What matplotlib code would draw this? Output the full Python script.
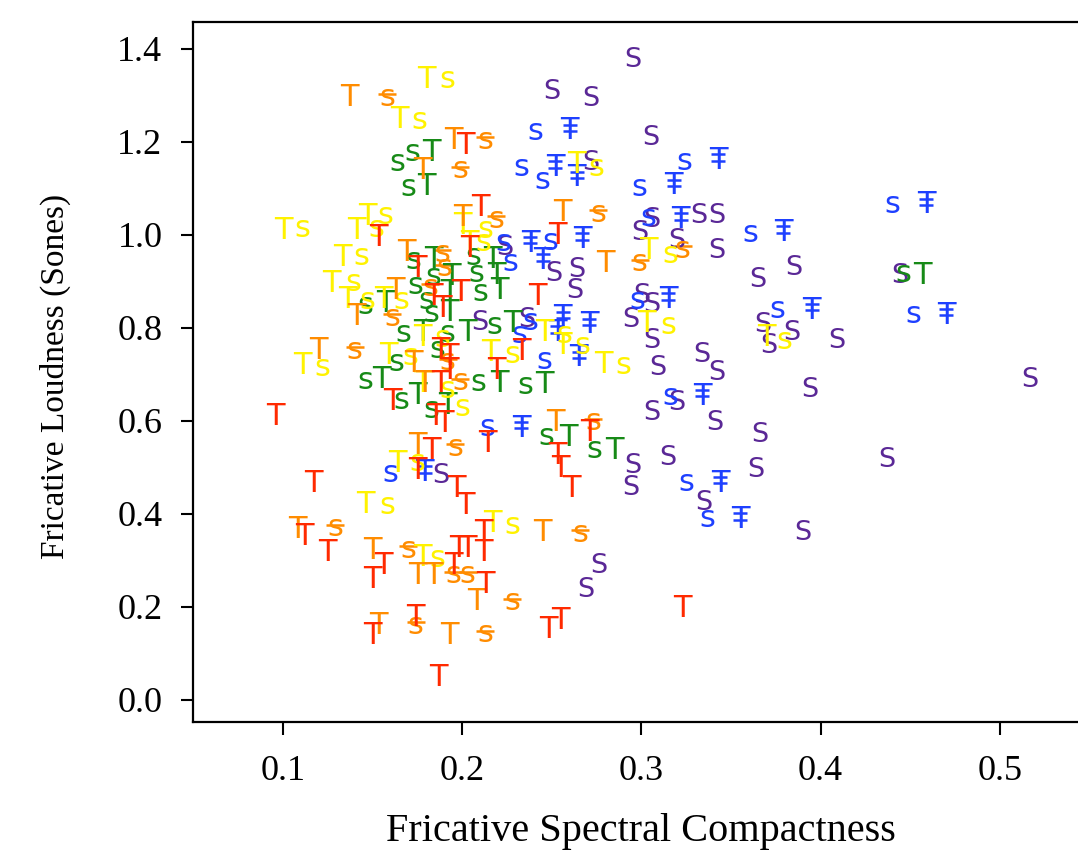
import matplotlib
matplotlib.use("Agg")
import matplotlib.pyplot as plt
from matplotlib.transforms import ScaledTranslation

# ---- fricative measurements, grouped by speaker colour and token letter ----
# compactness (x) / loudness in sones (y)

purple_s_x = [0.295, 0.250, 0.272, 0.305, 0.272, 0.306, 0.332, 0.342, 0.224, 0.251,
              0.299, 0.320, 0.342, 0.264, 0.263, 0.300, 0.306, 0.294, 0.210, 0.236,
              0.306, 0.309, 0.334, 0.342, 0.320, 0.306, 0.341, 0.315, 0.295, 0.294,
              0.335, 0.276, 0.269, 0.365, 0.385, 0.444, 0.368, 0.384, 0.371, 0.409,
              0.517, 0.394, 0.366, 0.437, 0.364, 0.390, 0.188]
purple_s_y = [1.383, 1.314, 1.299, 1.215, 1.161, 1.039, 1.047, 1.047, 0.978, 0.923,
              1.011, 0.994, 0.972, 0.931, 0.886, 0.875, 0.856, 0.824, 0.817, 0.824,
              0.778, 0.720, 0.748, 0.710, 0.645, 0.624, 0.602, 0.527, 0.510, 0.462,
              0.430, 0.295, 0.243, 0.910, 0.935, 0.918, 0.813, 0.796, 0.768, 0.778,
              0.695, 0.673, 0.576, 0.523, 0.501, 0.366, 0.488]

blue_s_x = [0.241, 0.233, 0.245, 0.324, 0.299, 0.304, 0.361, 0.223, 0.249, 0.227, 0.298,
            0.376, 0.440, 0.452, 0.232, 0.238, 0.246, 0.316, 0.214, 0.160, 0.325, 0.337]
blue_s_y = [1.222, 1.144, 1.118, 1.157, 1.103, 1.037, 1.004, 0.983, 0.985, 0.940, 0.860,
            0.839, 1.065, 0.830, 0.785, 0.813, 0.731, 0.652, 0.585, 0.488, 0.467, 0.391]

blue_t_x = [0.260, 0.252, 0.264, 0.343, 0.318, 0.322, 0.379, 0.238, 0.245, 0.267, 0.315,
            0.395, 0.459, 0.470, 0.253, 0.256, 0.271, 0.265, 0.334, 0.233, 0.179, 0.344, 0.355]
blue_t_y = [1.230, 1.151, 1.129, 1.166, 1.112, 1.039, 1.011, 0.989, 0.951, 0.996, 0.867,
            0.845, 1.071, 0.834, 0.796, 0.828, 0.813, 0.742, 0.660, 0.591, 0.495, 0.473, 0.394]

green_s_x = [0.172, 0.164, 0.170, 0.173, 0.184, 0.206, 0.208, 0.174, 0.146, 0.180, 0.210,
             0.183, 0.218, 0.167, 0.192, 0.186, 0.163, 0.146, 0.209, 0.235, 0.166, 0.183,
             0.247, 0.446, 0.274]
green_s_y = [1.178, 1.155, 1.103, 0.946, 0.910, 0.953, 0.918, 0.892, 0.849, 0.860, 0.877,
             0.832, 0.806, 0.789, 0.789, 0.753, 0.725, 0.688, 0.682, 0.677, 0.645, 0.624,
             0.566, 0.918, 0.538]

green_t_x = [0.183, 0.180, 0.184, 0.194, 0.217, 0.219, 0.193, 0.221, 0.157, 0.193, 0.228,
             0.178, 0.203, 0.155, 0.221, 0.246, 0.175, 0.192, 0.457, 0.259, 0.285]
green_t_y = [1.183, 1.110, 0.953, 0.918, 0.953, 0.920, 0.882, 0.886, 0.860, 0.839, 0.817,
             0.796, 0.796, 0.695, 0.688, 0.684, 0.662, 0.639, 0.920, 0.570, 0.544]

yellow_t_x = [0.180, 0.165, 0.100, 0.147, 0.141, 0.200, 0.204, 0.133, 0.127, 0.136, 0.156,
              0.178, 0.159, 0.216, 0.111, 0.178, 0.264, 0.304, 0.303, 0.246, 0.279, 0.370,
              0.164, 0.146, 0.217, 0.178, 0.256]
yellow_t_y = [1.340, 1.254, 1.017, 1.047, 1.017, 1.026, 0.989, 0.957, 0.903, 0.867, 0.867,
              0.785, 0.748, 0.753, 0.725, 0.688, 1.157, 0.974, 0.817, 0.796, 0.727, 0.785,
              0.516, 0.426, 0.387, 0.312, 0.768]

yellow_s_x = [0.192, 0.176, 0.111, 0.157, 0.152, 0.213, 0.212, 0.144, 0.139, 0.147, 0.166,
              0.189, 0.171, 0.228, 0.122, 0.192, 0.200, 0.275, 0.316, 0.315, 0.257, 0.267,
              0.290, 0.380, 0.158, 0.228, 0.186, 0.175]
yellow_s_y = [1.335, 1.247, 1.013, 1.041, 1.013, 1.011, 0.983, 0.953, 0.897, 0.860, 0.860,
              0.778, 0.738, 0.742, 0.716, 0.667, 0.630, 1.146, 0.957, 0.806, 0.785, 0.763,
              0.720, 0.774, 0.419, 0.376, 0.305, 0.510]

orange_t_x = [0.137, 0.195, 0.178, 0.200, 0.169, 0.163, 0.141, 0.120, 0.173, 0.179, 0.175,
              0.252, 0.256, 0.280, 0.245, 0.108, 0.150, 0.175, 0.184, 0.208, 0.153, 0.193]
orange_t_y = [1.301, 1.209, 1.146, 1.043, 0.968, 0.888, 0.832, 0.759, 0.731, 0.688, 0.553,
              0.604, 1.054, 0.946, 0.366, 0.372, 0.327, 0.275, 0.275, 0.219, 0.166, 0.146]

orange_s_x = [0.158, 0.213, 0.199, 0.219, 0.189, 0.190, 0.182, 0.161, 0.140, 0.192, 0.199,
              0.196, 0.276, 0.323, 0.299, 0.273, 0.266, 0.129, 0.170, 0.195, 0.203, 0.174,
              0.213, 0.228]
orange_s_y = [1.295, 1.204, 1.140, 1.034, 0.961, 0.929, 0.888, 0.822, 0.751, 0.727, 0.684,
              0.544, 1.047, 0.968, 0.940, 0.598, 0.359, 0.370, 0.323, 0.269, 0.269, 0.161,
              0.142, 0.211]

red_t_x = [0.202, 0.210, 0.153, 0.204, 0.175, 0.184, 0.199, 0.189, 0.242, 0.188, 0.193,
           0.233, 0.193, 0.219, 0.188, 0.161, 0.185, 0.190, 0.096, 0.214, 0.183, 0.175,
           0.117, 0.197, 0.202, 0.112, 0.125, 0.212, 0.212, 0.198, 0.203, 0.195, 0.156,
           0.150, 0.213, 0.174, 0.150, 0.187, 0.253, 0.271, 0.253, 0.255, 0.261, 0.323,
           0.255, 0.248]
red_t_y = [1.198, 1.065, 1.000, 0.978, 0.935, 0.875, 0.882, 0.849, 0.875, 0.759, 0.746,
           0.755, 0.716, 0.714, 0.688, 0.649, 0.617, 0.600, 0.617, 0.559, 0.542, 0.499,
           0.471, 0.462, 0.424, 0.359, 0.323, 0.366, 0.323, 0.333, 0.333, 0.295, 0.295,
           0.265, 0.254, 0.183, 0.146, 0.054, 1.006, 0.581, 0.533, 0.505, 0.462, 0.204,
           0.178, 0.157]

x_ticks = [0.1, 0.2, 0.3, 0.4, 0.5]
y_ticks = [0.0, 0.2, 0.4, 0.6, 0.8, 1.0, 1.2, 1.4]

RED = "#ff2a00"
ORANGE = "#ff8c00"
YELLOW = "#fff200"
GREEN = "#178a17"
BLUE = "#1e40ff"
PURPLE = "#5a2896"

plt.rcParams["font.family"] = ["Liberation Serif", "DejaVu Serif"]

fig = plt.figure(figsize=(10.78, 8.51), dpi=100)
ax = fig.add_axes([0.179, 0.1516, 0.8414, 0.8226])
ax.set_xlim(0.0498, 0.5559)
ax.set_ylim(-0.0473, 1.458)


def letters(xs, ys, s, color, size=22, va="center_baseline"):
    for x, y in zip(xs, ys):
        ax.text(x, y, s, color=color, fontsize=size, ha="center", va=va,
                family="DejaVu Sans")


def bars(xs, ys, color, dy, width):
    # short horizontal strokes laid over a letter, shifted dy points
    tr = ax.transData + ScaledTranslation(0, dy / 72, fig.dpi_scale_trans)
    ax.plot(xs, ys, ls="none", marker="_", ms=width, mew=1.8, color=color, transform=tr)


letters(purple_s_x, purple_s_y, "S", PURPLE, size=19.5)

letters(blue_s_x, blue_s_y, "s", BLUE, va="center")
letters(blue_t_x, blue_t_y, "T", BLUE)
bars(blue_t_x, blue_t_y, BLUE, 2.4, 10.5)
bars(blue_t_x, blue_t_y, BLUE, -2.2, 10.5)

letters(green_s_x, green_s_y, "s", GREEN, va="center")
letters(green_t_x, green_t_y, "T", GREEN)

letters(yellow_t_x, yellow_t_y, "T", YELLOW)
letters(yellow_s_x, yellow_s_y, "s", YELLOW, va="center")

letters(orange_t_x, orange_t_y, "T", ORANGE)
letters(orange_s_x, orange_s_y, "s", ORANGE, va="center")
bars(orange_s_x, orange_s_y, ORANGE, 2.4, 12.5)

letters(red_t_x, red_t_y, "T", RED)

# axes styling
for side in ["left", "bottom", "top"]:
    ax.spines[side].set_linewidth(1.6)
ax.spines["right"].set_visible(False)
ax.set_xticks(x_ticks)
ax.set_yticks(y_ticks)
ax.set_xticklabels([f"{v:.1f}" for v in x_ticks])
ax.set_yticklabels([f"{v:.1f}" for v in y_ticks])
ax.tick_params(axis="both", direction="out", length=9, width=1.5, labelsize=26)
ax.tick_params(axis="x", pad=15)
ax.tick_params(axis="y", pad=13)

ax.set_xlabel("Fricative Spectral Compactness", fontsize=29)
ax.xaxis.set_label_coords(0.494, -0.13)
ax.set_ylabel("Fricative Loudness (Sones)", fontsize=24)
ax.yaxis.set_label_coords(-0.135, 0.494)

fig.savefig("out.png", dpi=100)
